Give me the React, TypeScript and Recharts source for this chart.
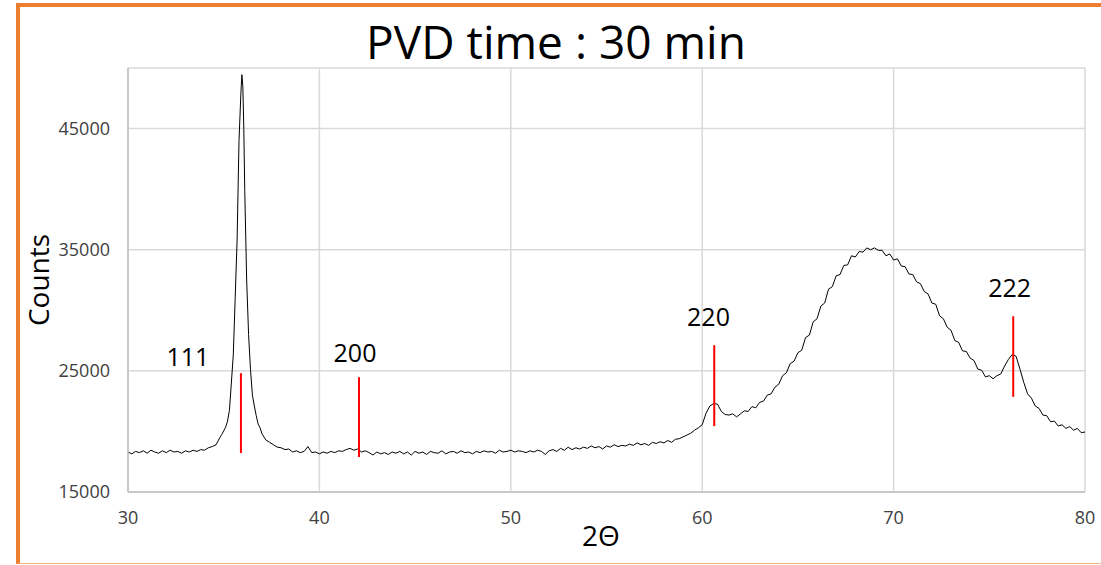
import { LineChart, Line, XAxis, YAxis, CartesianGrid, ReferenceLine, ReferenceDot } from 'recharts';

// 2-theta positions of the scan (denser over the sharp 111 peak)
const twoTheta = [
    30.0, 30.2, 30.4, 30.6, 30.8, 31.0, 31.2, 31.4, 31.6, 31.8,
    32.0, 32.2, 32.4, 32.6, 32.8, 33.0, 33.2, 33.4, 33.6, 33.8,
    34.0, 34.2, 34.4, 34.6, 34.8, 34.9, 35.0, 35.1, 35.2, 35.3,
    35.4, 35.5, 35.6, 35.7, 35.8, 35.9, 35.95, 36.0, 36.05, 36.1,
    36.2, 36.3, 36.4, 36.5, 36.6, 36.7, 36.8, 36.9, 37.0, 37.2,
    37.4, 37.6, 37.8, 38.0, 38.2, 38.4, 38.6, 38.8, 39.0, 39.2,
    39.4, 39.6, 39.8, 40.0, 40.2, 40.4, 40.6, 40.8, 41.0, 41.2,
    41.4, 41.6, 41.8, 42.0, 42.2, 42.4, 42.6, 42.8, 43.0, 43.2,
    43.4, 43.6, 43.8, 44.0, 44.2, 44.4, 44.6, 44.8, 45.0, 45.2,
    45.4, 45.6, 45.8, 46.0, 46.2, 46.4, 46.6, 46.8, 47.0, 47.2,
    47.4, 47.6, 47.8, 48.0, 48.2, 48.4, 48.6, 48.8, 49.0, 49.2,
    49.4, 49.6, 49.8, 50.0, 50.2, 50.4, 50.6, 50.8, 51.0, 51.2,
    51.4, 51.6, 51.8, 52.0, 52.2, 52.4, 52.6, 52.8, 53.0, 53.2,
    53.4, 53.6, 53.8, 54.0, 54.2, 54.4, 54.6, 54.8, 55.0, 55.2,
    55.4, 55.6, 55.8, 56.0, 56.2, 56.4, 56.6, 56.8, 57.0, 57.2,
    57.4, 57.6, 57.8, 58.0, 58.2, 58.4, 58.6, 58.8, 59.0, 59.2,
    59.4, 59.6, 59.8, 60.0, 60.2, 60.4, 60.6, 60.8, 61.0, 61.2,
    61.4, 61.6, 61.8, 62.0, 62.2, 62.4, 62.6, 62.8, 63.0, 63.2,
    63.4, 63.6, 63.8, 64.0, 64.2, 64.4, 64.6, 64.8, 65.0, 65.2,
    65.4, 65.6, 65.8, 66.0, 66.2, 66.4, 66.6, 66.8, 67.0, 67.2,
    67.4, 67.6, 67.8, 68.0, 68.2, 68.4, 68.6, 68.8, 69.0, 69.2,
    69.4, 69.6, 69.8, 70.0, 70.2, 70.4, 70.6, 70.8, 71.0, 71.2,
    71.4, 71.6, 71.8, 72.0, 72.2, 72.4, 72.6, 72.8, 73.0, 73.2,
    73.4, 73.6, 73.8, 74.0, 74.2, 74.4, 74.6, 74.8, 75.0, 75.2,
    75.4, 75.6, 75.8, 76.0, 76.2, 76.4, 76.6, 76.8, 77.0, 77.2,
    77.4, 77.6, 77.8, 78.0, 78.2, 78.4, 78.6, 78.8, 79.0, 79.2,
    79.4, 79.6, 79.8, 80.0,
];

const counts = [
    18300, 18150, 18350, 18250, 18400, 18200, 18450, 18300, 18200, 18400,
    18250, 18450, 18300, 18350, 18200, 18400, 18300, 18450, 18350, 18500,
    18450, 18650, 18750, 18900, 19500, 19750, 20050, 20350, 20850, 21750,
    24000, 26300, 31000, 35800, 44000, 48000, 49450, 48500, 45000, 39900,
    32500, 28000, 25100, 23000, 22100, 21300, 20600, 20300, 19800, 19300,
    19100, 18900, 18700, 18650, 18500, 18550, 18300, 18400, 18250, 18350,
    18750, 18250, 18300, 18150, 18300, 18200, 18350, 18250, 18400, 18350,
    18500, 18600, 18450, 18550, 18300, 18400, 18250, 18050, 18300, 18150,
    18250, 18100, 18300, 18200, 18350, 18150, 18300, 18050, 18350, 18200,
    18300, 18100, 18350, 18250, 18200, 18400, 18150, 18300, 18350, 18200,
    18400, 18250, 18300, 18150, 18350, 18250, 18400, 18300, 18350, 18200,
    18450, 18300, 18350, 18450, 18300, 18400, 18350, 18250, 18400, 18300,
    18450, 18350, 18100, 18400, 18500, 18350, 18600, 18450, 18700, 18500,
    18650, 18550, 18700, 18600, 18800, 18650, 18750, 18550, 18800, 18700,
    18900, 18750, 18850, 18800, 18950, 18850, 19050, 18900, 19000, 18850,
    19100, 19000, 19150, 19050, 19250, 19100, 19350, 19400, 19550, 19700,
    19850, 20100, 20300, 20550, 21500, 22100, 22300, 22250, 21650, 21400,
    21350, 21450, 21200, 21450, 21700, 21650, 22050, 21950, 22400, 22500,
    23000, 23100, 23650, 23900, 24600, 24850, 25600, 25800, 26500, 26700,
    27750, 27950, 29050, 29300, 30350, 30600, 31750, 31950, 32850, 32950,
    33700, 33750, 34500, 34400, 34850, 34800, 35150, 35000, 35150, 34950,
    34950, 34500, 34650, 34150, 34250, 33650, 33600, 33000, 32950, 32350,
    32200, 31550, 31350, 30600, 30500, 29550, 29300, 28600, 28350, 27500,
    27350, 26650, 26600, 26050, 25850, 25150, 25050, 24500, 24600, 24350,
    24600, 24750, 25400, 25950, 26350, 26200, 25150, 24050, 23100, 22750,
    22100, 21900, 21350, 21300, 20800, 20850, 20450, 20550, 20250, 20400,
    20100, 20250, 19900, 19950,
];

const xTicks = [30, 40, 50, 60, 70, 80];
const yTicks = [15000, 25000, 35000, 45000];

// reference peak markers
const peakHkl = ['111', '200', '220', '222'];
const peakPos = [35.9, 42.07, 60.63, 76.25];
const markerLow = [18215, 17885, 20440, 22860];
const markerHigh = [24810, 24480, 27120, 29510];
const labelX = [33.13, 41.86, 60.33, 76.06];
const labelY = [26130, 26500, 29430, 31860];

const data = twoTheta.map((t, i) => ({ t, c: counts[i] }));

const tickStyle = { fontSize: '18px', fill: '#404040', fontFamily: '"Open Sans", sans-serif' };

const XTick = (props: any) => (
    <text x={props.x} y={props.y} dy="0.85em" textAnchor="middle" style={tickStyle}>
        {props.payload.value}
    </text>
);

const YTick = (props: any) => (
    <text x={props.x} y={props.y} dy="0.35em" textAnchor="end" style={tickStyle}>
        {props.payload.value}
    </text>
);

export default function App() {
    return (
        <div style={{ position: 'absolute', left: 0, top: 0, width: 1101, height: 565, background: '#fff', overflow: 'hidden', fontFamily: '"Open Sans", sans-serif' }}>
            <div style={{ position: 'absolute', left: 16, top: 3, width: 1120, height: 556, borderTop: '4px solid #ED7D31', borderLeft: '4px solid #ED7D31', borderBottom: '1px solid #F4B183' }} />
            <div style={{ position: 'absolute', left: 0, width: 1112, top: 18, textAlign: 'center', fontSize: 46, lineHeight: '46px', color: '#000' }}>
                PVD time : 30 min
            </div>
            <div style={{ position: 'absolute', left: 38, top: 280, transform: 'translate(-50%, -50%) rotate(-90deg)', fontSize: 28, lineHeight: '28px', whiteSpace: 'nowrap' }}>
                Counts
            </div>
            <div style={{ position: 'absolute', left: 601, top: 535, transform: 'translate(-50%, -50%)', fontSize: 28, lineHeight: '28px' }}>
                2Θ
            </div>
            <div style={{ position: 'absolute', left: 0, top: 0 }}>
                <LineChart width={1101} height={565} data={data} margin={{ top: 68, right: 16, bottom: 33, left: 28 }}>
                    <CartesianGrid stroke="#d9d9d9" strokeWidth={1.5} />
                    <XAxis
                        type="number"
                        dataKey="t"
                        domain={[30, 80]}
                        ticks={xTicks}
                        height={40}
                        stroke="#bfbfbf"
                        strokeWidth={1.5}
                        tickLine={false}
                        tickSize={0}
                        tickMargin={17}
                        tick={XTick}
                    />
                    <YAxis
                        type="number"
                        domain={[15000, 50000]}
                        ticks={yTicks}
                        width={100}
                        stroke="#bfbfbf"
                        strokeWidth={1.5}
                        tickLine={false}
                        tickSize={0}
                        tickMargin={18}
                        tick={YTick}
                    />
                    <Line type="linear" dataKey="c" stroke="#000" strokeWidth={1} dot={false} isAnimationActive={false} />
                    {peakHkl.map((h, i) => (
                        <ReferenceLine
                            key={'m' + h}
                            segment={[{ x: peakPos[i], y: markerLow[i] }, { x: peakPos[i], y: markerHigh[i] }]}
                            stroke="#ff0000"
                            strokeWidth={2}
                        />
                    ))}
                    {peakHkl.map((h, i) => (
                        <ReferenceDot
                            key={'l' + h}
                            x={labelX[i]}
                            y={labelY[i]}
                            r={1}
                            fill="none"
                            stroke="none"
                            label={{ value: h, position: 'center', fontSize: 25, fill: '#000' }}
                        />
                    ))}
                </LineChart>
            </div>
        </div>
    );
}
